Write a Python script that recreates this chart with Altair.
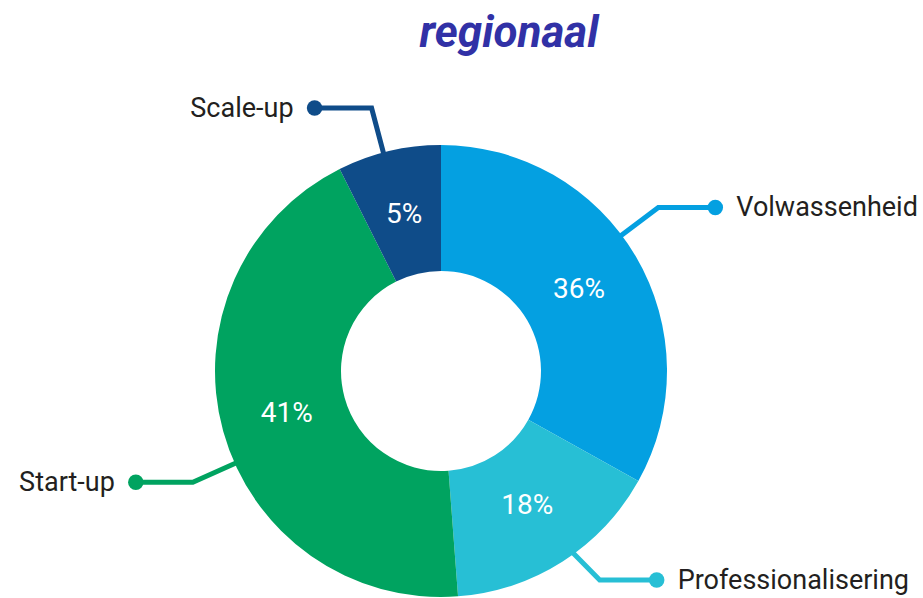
import math
import altair as alt
import pandas as pd

# ---- data ----
categories = ["Volwassenheid", "Professionalisering", "Start-up", "Scale-up"]
slice_share = [33.1, 15.7, 43.8, 7.4]          # arc sizes as drawn (share of circle, %)
label_pct = ["36%", "18%", "41%", "5%"]        # printed percentages
colors = ["#04A0E1", "#27BFD5", "#00A360", "#0F4C89"]
title_text = "regionaal"

# ---- layout constants ----
W, H = 923, 598
CX, CY = 441, 371
R_IN, R_OUT = 100, 226
R_TXT = 160
R_KNEE = 272
ARM = 57
GAP = 21
ANCHOR = 0.445
EDGE_MARGIN = 18
FONT = "Roboto"

total = sum(slice_share)
slices, lines, dots, labels, pcts = [], [], [], [], []
cum = 0.0


def pt(a, r):
    return CX + r * math.sin(a), CY - r * math.cos(a)


for i, (c, s, p) in enumerate(zip(categories, slice_share, label_pct)):
    a0 = cum / total * 2 * math.pi
    a1 = (cum + s) / total * 2 * math.pi
    cum += s
    slices.append({"cat": c, "share": s, "idx": i})
    mid = (a0 + a1) / 2
    px, py = pt(mid, R_TXT)
    pcts.append({"cat": c, "x": px, "y": py, "txt": p})
    anc = a0 + ANCHOR * (a1 - a0)
    sx, sy = pt(anc, R_OUT - 8)
    kx, ky = pt(anc, R_KNEE)
    ky = min(max(ky, EDGE_MARGIN), H - EDGE_MARGIN)
    d = 1 if math.sin(anc) > 0 else -1
    ex = kx + d * ARM
    for j, (xx, yy) in enumerate([(sx, sy), (kx, ky), (ex, ky)]):
        lines.append({"cat": c, "x": xx, "y": yy, "o": j})
    dots.append({"cat": c, "x": ex, "y": ky})
    labels.append({"cat": c, "x": ex + d * GAP, "y": ky, "side": "right" if d > 0 else "left"})

df_slice = pd.DataFrame(slices)
df_line = pd.DataFrame(lines)
df_dot = pd.DataFrame(dots)
df_lbl = pd.DataFrame(labels)
df_pct = pd.DataFrame(pcts)

color = alt.Color("cat:N", scale=alt.Scale(domain=categories, range=colors), legend=None)
xs = alt.X("x:Q", scale=alt.Scale(domain=[0, W], nice=False, zero=False), axis=None)
ys = alt.Y("y:Q", scale=alt.Scale(domain=[0, H], nice=False, zero=False, reverse=True), axis=None)

line_layer = alt.Chart(df_line).mark_line(strokeWidth=5, strokeJoin="miter").encode(
    x=xs, y=ys, color=color, detail="cat:N", order="o:Q"
)
dot_layer = alt.Chart(df_dot).mark_point(filled=True, size=240, opacity=1, shape="circle").encode(
    x=xs, y=ys, color=color
)
arc_layer = alt.Chart(df_slice).mark_arc(innerRadius=R_IN, outerRadius=R_OUT, x=CX, y=CY).encode(
    theta=alt.Theta("share:Q", stack=True), color=color, order=alt.Order("idx:Q")
)
pct_layer = alt.Chart(df_pct).mark_text(
    font=FONT, fontSize=28, color="white", align="center", baseline="middle"
).encode(x=xs, y=ys, text="txt:N")
lbl_right = alt.Chart(df_lbl).transform_filter(alt.datum.side == "right").mark_text(
    font=FONT, fontSize=27, color="#231F20", align="left", baseline="alphabetic", dy=9
).encode(x=xs, y=ys, text="cat:N")
lbl_left = alt.Chart(df_lbl).transform_filter(alt.datum.side == "left").mark_text(
    font=FONT, fontSize=27, color="#231F20", align="right", baseline="alphabetic", dy=9
).encode(x=xs, y=ys, text="cat:N")
title_layer = alt.Chart(pd.DataFrame({"t": [title_text]})).mark_text(
    font=FONT, fontSize=44, fontStyle="italic", fontWeight="bold", color="#3131A6",
    align="center", baseline="alphabetic", x=509, y=47
).encode(text="t:N")

chart = alt.layer(
    line_layer, dot_layer, arc_layer, pct_layer, lbl_right, lbl_left, title_layer
).properties(
    width=W, height=H, autosize=alt.AutoSizeParams(type="none"), padding=0, background="white"
).configure_view(stroke=None)

chart.save("out.html", embed_options={"renderer": "svg", "actions": False})
